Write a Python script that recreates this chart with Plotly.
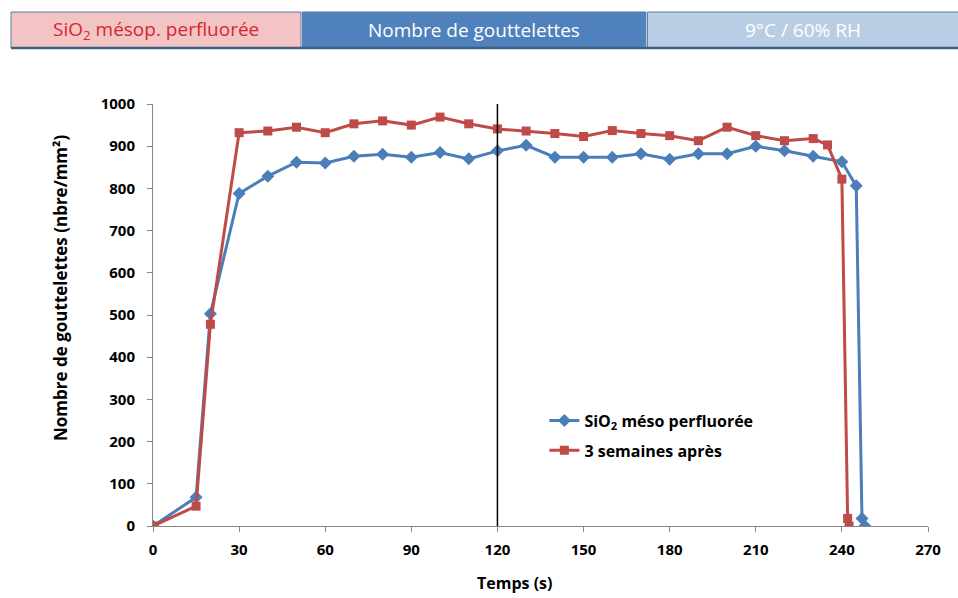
import plotly.graph_objects as go

# Time (s) and droplet density (nbre/mm²) for the two measurements
t_initial = [0, 15, 20, 30, 40, 50, 60, 70, 80, 90, 100, 110, 120, 130, 140, 150,
             160, 170, 180, 190, 200, 210, 220, 230, 240, 245, 247, 248]
n_initial = [0, 68, 503, 788, 829, 862, 860, 876, 881, 874, 885, 870, 889, 902, 874, 874,
             874, 882, 869, 882, 882, 900, 889, 876, 863, 806, 18, 0]

t_after = [0, 15, 20, 30, 40, 50, 60, 70, 80, 90, 100, 110, 120, 130, 140, 150,
           160, 170, 180, 190, 200, 210, 220, 230, 235, 240, 242, 242.5]
n_after = [0, 47, 478, 932, 936, 945, 932, 953, 960, 950, 969, 953, 941, 936, 930, 923,
           937, 930, 925, 913, 945, 925, 913, 918, 903, 822, 18, 0]

label_initial = "SiO<sub>2</sub> méso perfluorée"
label_after = "3 semaines après"

x_ticks = [0, 30, 60, 90, 120, 150, 180, 210, 240, 270]
y_ticks = [0, 100, 200, 300, 400, 500, 600, 700, 800, 900, 1000]
marker_time = 120

header_texts = ["SiO<sub>2</sub> mésop. perfluorée", "Nombre de gouttelettes", "9°C / 60% RH"]

BLUE = "#4A7EBB"
RED = "#BE4B48"
FONT = "Open Sans"

fig = go.Figure()
fig.add_trace(go.Scatter(
    x=t_initial, y=n_initial, name=label_initial, mode="lines+markers",
    legendgroup="a",
    line=dict(color=BLUE, width=3),
    marker=dict(symbol="diamond", size=10, color=BLUE),
))
fig.add_trace(go.Scatter(
    x=t_after, y=n_after, name=label_after, mode="lines+markers",
    legendgroup="b",
    line=dict(color=RED, width=3),
    marker=dict(symbol="square", size=9, color=RED),
))

# Vertical reference line at 120 s
fig.add_shape(type="line", xref="x", yref="y", x0=marker_time, x1=marker_time,
              y0=0, y1=1010, line=dict(color="black", width=1.5))

# Header banner: three coloured boxes
boxes = [(-0.1832, 0.191, "#F2C4C4", "#D9262E"),
         (0.193, 0.636, "#4F81BD", "white"),
         (0.638, 1.045, "#B9CDE5", "white")]
for (x0, x1, fill, tc), txt in zip(boxes, header_texts):
    fig.add_shape(type="rect", xref="paper", yref="paper", x0=x0, x1=x1,
                  y0=1.1327, y1=1.218, fillcolor=fill,
                  line=dict(color="#5A7DA8", width=1), layer="above")
    fig.add_annotation(xref="paper", yref="paper", x=(x0 + min(x1, 1.0387)) / 2,
                       y=1.176, xanchor="center", yanchor="middle", text=txt,
                       showarrow=False,
                       font=dict(family="Open Sans", size=19, color=tc))
# dark line under the banner
fig.add_shape(type="line", xref="paper", yref="paper", x0=-0.1832, x1=1.045,
              y0=1.1327, y1=1.1327, line=dict(color="#3F5F86", width=2.5))

fig.add_annotation(xref="paper", yref="paper", x=(514 - 153) / 775, y=-0.135,
                   xanchor="center", yanchor="middle",
                   text="<b>Temps (s)</b>", showarrow=False,
                   font=dict(family=FONT, size=16, color="black"))
fig.add_annotation(xref="paper", yref="paper", x=(60 - 153) / 775, y=(526 - 288) / 422,
                   xanchor="center", yanchor="middle",
                   text="<b>Nombre de gouttelettes (nbre/mm²)</b>", textangle=-90,
                   showarrow=False, font=dict(family=FONT, size=17, color="black"))

fig.update_xaxes(range=[0, 270], tickvals=x_ticks, ticktext=[str(v) for v in x_ticks],
                 showgrid=False, zeroline=False, showline=True, linecolor="#868686",
                 linewidth=1, ticks="outside", ticklen=5, tickcolor="#868686",
                 ticklabelstandoff=5,
                 tickfont=dict(family=FONT, size=15, color="black", weight="bold"))
fig.update_yaxes(range=[0, 1000], tickvals=y_ticks, ticktext=[str(v) for v in y_ticks],
                 showgrid=False, zeroline=False, showline=True, linecolor="#868686",
                 linewidth=1, ticks="outside", ticklen=5, tickcolor="#868686",
                 ticklabelstandoff=9,
                 tickfont=dict(family=FONT, size=15, color="black", weight="bold"))

fig.update_layout(
    width=958, height=598,
    margin=dict(l=153, r=30, t=104, b=72),
    paper_bgcolor="white", plot_bgcolor="white",
    showlegend=True,
    legend=dict(x=0.505, y=0.29, xanchor="left", yanchor="top",
                bgcolor="rgba(0,0,0,0)", itemwidth=30, tracegroupgap=6,
                font=dict(family=FONT, size=16, color="black", weight="bold")),
)

fig.write_html("out.html")
